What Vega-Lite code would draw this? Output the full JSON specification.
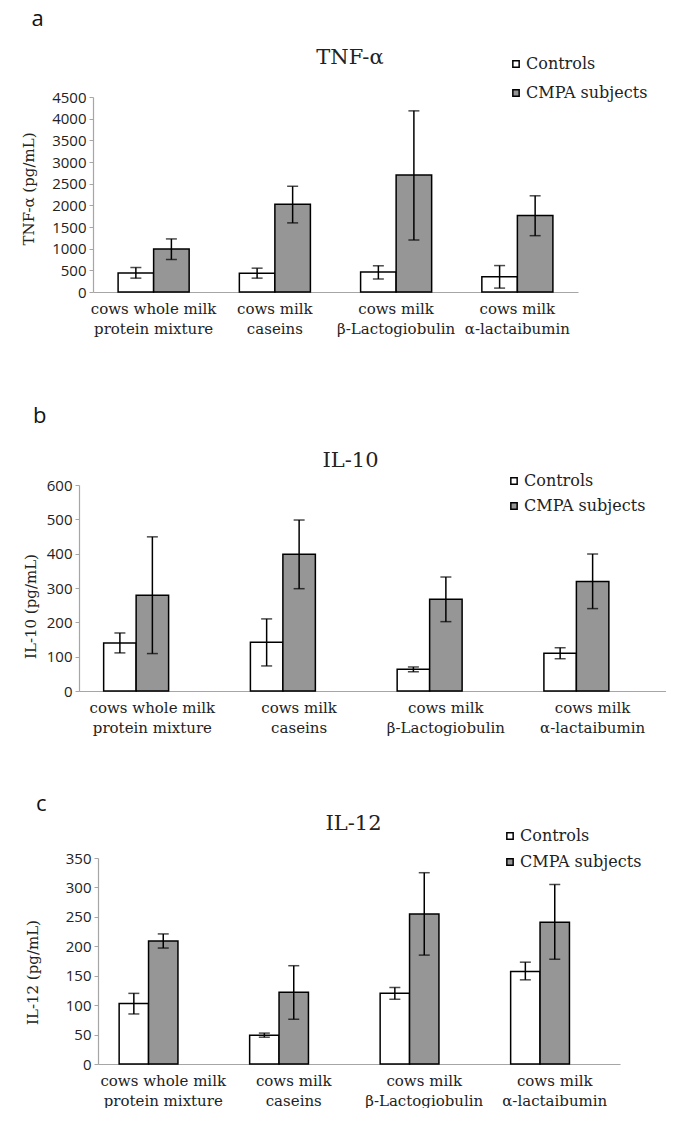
{
  "$schema": "https://vega.github.io/schema/vega-lite/v6.json",
  "background": "white",
  "padding": {"left": 21, "top": 8, "right": 0, "bottom": 0},
  "spacing": 58,
  "columns": 1,
  "resolve": {"scale": {"xOffset": "independent", "color": "independent", "x": "independent", "y": "independent"}, "legend": {"color": "independent"}, "axis": {"x": "independent", "y": "independent"}},
  "datasets": {
    "tnf": [
      {"category": "cows whole milk|protein mixture", "group": "Controls", "mean": 440, "lo": 320, "hi": 565},
      {"category": "cows whole milk|protein mixture", "group": "CMPA subjects", "mean": 990, "lo": 750, "hi": 1225},
      {"category": "cows milk|caseins", "group": "Controls", "mean": 435, "lo": 320, "hi": 550},
      {"category": "cows milk|caseins", "group": "CMPA subjects", "mean": 2025, "lo": 1595, "hi": 2440},
      {"category": "cows milk|β-Lactogiobulin", "group": "Controls", "mean": 460, "lo": 300, "hi": 605},
      {"category": "cows milk|β-Lactogiobulin", "group": "CMPA subjects", "mean": 2700, "lo": 1200, "hi": 4180},
      {"category": "cows milk|α-lactaibumin", "group": "Controls", "mean": 350, "lo": 90, "hi": 610},
      {"category": "cows milk|α-lactaibumin", "group": "CMPA subjects", "mean": 1765, "lo": 1300, "hi": 2220}
    ],
    "il10": [
      {"category": "cows whole milk|protein mixture", "group": "Controls", "mean": 140, "lo": 111, "hi": 169},
      {"category": "cows whole milk|protein mixture", "group": "CMPA subjects", "mean": 279, "lo": 109, "hi": 449},
      {"category": "cows milk|caseins", "group": "Controls", "mean": 142, "lo": 73, "hi": 210},
      {"category": "cows milk|caseins", "group": "CMPA subjects", "mean": 398, "lo": 298, "hi": 498},
      {"category": "cows milk|β-Lactogiobulin", "group": "Controls", "mean": 63, "lo": 56, "hi": 70},
      {"category": "cows milk|β-Lactogiobulin", "group": "CMPA subjects", "mean": 267, "lo": 202, "hi": 332},
      {"category": "cows milk|α-lactaibumin", "group": "Controls", "mean": 110, "lo": 94, "hi": 126},
      {"category": "cows milk|α-lactaibumin", "group": "CMPA subjects", "mean": 319, "lo": 240, "hi": 399}
    ],
    "il12": [
      {"category": "cows whole milk|protein mixture", "group": "Controls", "mean": 103, "lo": 85, "hi": 120},
      {"category": "cows whole milk|protein mixture", "group": "CMPA subjects", "mean": 209, "lo": 197, "hi": 221},
      {"category": "cows milk|caseins", "group": "Controls", "mean": 49, "lo": 45.5, "hi": 52.5},
      {"category": "cows milk|caseins", "group": "CMPA subjects", "mean": 122, "lo": 76, "hi": 167},
      {"category": "cows milk|β-Lactogiobulin", "group": "Controls", "mean": 120, "lo": 110, "hi": 130},
      {"category": "cows milk|β-Lactogiobulin", "group": "CMPA subjects", "mean": 255, "lo": 185, "hi": 325},
      {"category": "cows milk|α-lactaibumin", "group": "Controls", "mean": 157, "lo": 143, "hi": 173},
      {"category": "cows milk|α-lactaibumin", "group": "CMPA subjects", "mean": 241, "lo": 178, "hi": 305}
    ]
  },
  "concat": [
    {
      "title": {"text": "a", "anchor": "start", "frame": "bounds", "font": "Open Sans", "fontSize": 22, "fontWeight": "normal", "color": "#111", "dx": 10, "offset": 16},
      "resolve": {"scale": {"xOffset": "independent", "color": "independent"}, "legend": {"color": "independent"}},
      "vconcat": [
        {
          "width": 499,
          "height": 195,
          "data": {"name": "tnf"},
          "title": {"text": "TNF-α", "font": "DejaVu Serif", "fontSize": 21, "fontWeight": "normal", "color": "#222", "dx": 21.5, "offset": -12},
          "encoding": {
            "x": {"field": "category", "type": "nominal", "sort": null, "title": " ",
              "scale": {"range": [14, 499], "paddingInner": 0.414, "paddingOuter": 0.207},
              "axis": {"labelExpr": "split(datum.label, '|')", "titleFontSize": 1, "titlePadding": 10}}
          },
          "layer": [
            {
              "mark": {"type": "bar", "stroke": "black", "strokeWidth": 1.5},
              "encoding": {
                "xOffset": {"field": "group", "type": "nominal", "scale": {"domain": ["Controls", "CMPA subjects"], "paddingInner": 0, "paddingOuter": 0}},
                "y": {"field": "mean", "type": "quantitative", "title": "TNF-α (pg/mL)", "scale": {"domain": [0, 4500]},
                  "axis": {"values": [0, 500, 1000, 1500, 2000, 2500, 3000, 3500, 4000, 4500], "offset": -14, "titleX": -64.5, "titleY": 91.5}},
                "color": {"field": "group", "type": "nominal", "scale": {"domain": ["Controls", "CMPA subjects"], "range": ["#ffffff", "#969696"]},
                  "legend": {"orient": "none", "legendX": 429, "legendY": -41, "title": null, "rowPadding": 13}}
              }
            },
            {
              "mark": {"type": "rule", "color": "black", "strokeWidth": 1.5},
              "encoding": {
                "xOffset": {"field": "group", "type": "nominal", "scale": {"domain": ["Controls", "CMPA subjects"], "paddingInner": 0, "paddingOuter": 0}},
                "y": {"field": "lo", "type": "quantitative", "title": "TNF-α (pg/mL)",
                  "axis": {"values": [0, 500, 1000, 1500, 2000, 2500, 3000, 3500, 4000, 4500], "offset": -14, "titleX": -64.5, "titleY": 91.5}},
                "y2": {"field": "hi"}
              }
            },
            {
              "mark": {"type": "tick", "color": "black", "thickness": 1.5, "size": 11},
              "encoding": {
                "xOffset": {"field": "group", "type": "nominal", "scale": {"domain": ["Controls", "CMPA subjects"], "paddingInner": 0, "paddingOuter": 0}},
                "y": {"field": "lo", "type": "quantitative", "title": "TNF-α (pg/mL)",
                  "axis": {"values": [0, 500, 1000, 1500, 2000, 2500, 3000, 3500, 4000, 4500], "offset": -14, "titleX": -64.5, "titleY": 91.5}}
              }
            },
            {
              "mark": {"type": "tick", "color": "black", "thickness": 1.5, "size": 11},
              "encoding": {
                "xOffset": {"field": "group", "type": "nominal", "scale": {"domain": ["Controls", "CMPA subjects"], "paddingInner": 0, "paddingOuter": 0}},
                "y": {"field": "hi", "type": "quantitative", "title": "TNF-α (pg/mL)",
                  "axis": {"values": [0, 500, 1000, 1500, 2000, 2500, 3000, 3500, 4000, 4500], "offset": -14, "titleX": -64.5, "titleY": 91.5}}
              }
            }
          ]
        }
      ]
    },
    {
      "title": {"text": "b", "anchor": "start", "frame": "bounds", "font": "Open Sans", "fontSize": 22, "fontWeight": "normal", "color": "#111", "dx": 10, "offset": 22},
      "resolve": {"scale": {"xOffset": "independent", "color": "independent"}, "legend": {"color": "independent"}},
      "vconcat": [
        {
          "width": 587,
          "height": 206,
          "data": {"name": "il10"},
          "title": {"text": "IL-10", "font": "DejaVu Serif", "fontSize": 21, "fontWeight": "normal", "color": "#222", "dx": -22, "offset": 2},
          "encoding": {
            "x": {"field": "category", "type": "nominal", "sort": null, "title": null,
              "scale": {"paddingInner": 0.336, "paddingOuter": 0.168},
              "axis": {"labelExpr": "split(datum.label, '|')"}}
          },
          "layer": [
            {
              "mark": {"type": "bar", "stroke": "black", "strokeWidth": 1.5},
              "encoding": {
                "xOffset": {"field": "group", "type": "nominal", "scale": {"domain": ["Controls", "CMPA subjects", "none"], "paddingInner": 0, "paddingOuter": 0}},
                "y": {"field": "mean", "type": "quantitative", "title": "IL-10 (pg/mL)", "scale": {"domain": [0, 600]},
                  "axis": {"values": [0, 100, 200, 300, 400, 500, 600], "titleX": -49, "titleY": 121}},
                "color": {"field": "group", "type": "nominal", "scale": {"domain": ["Controls", "CMPA subjects"], "range": ["#ffffff", "#969696"]},
                  "legend": {"orient": "none", "legendX": 427, "legendY": -12, "title": null, "rowPadding": 9}}
              }
            },
            {
              "mark": {"type": "rule", "color": "black", "strokeWidth": 1.5},
              "encoding": {
                "xOffset": {"field": "group", "type": "nominal", "scale": {"domain": ["Controls", "CMPA subjects", "none"], "paddingInner": 0, "paddingOuter": 0}},
                "y": {"field": "lo", "type": "quantitative", "title": "IL-10 (pg/mL)",
                  "axis": {"values": [0, 100, 200, 300, 400, 500, 600], "titleX": -49, "titleY": 121}},
                "y2": {"field": "hi"}
              }
            },
            {
              "mark": {"type": "tick", "color": "black", "thickness": 1.5, "size": 11},
              "encoding": {
                "xOffset": {"field": "group", "type": "nominal", "scale": {"domain": ["Controls", "CMPA subjects", "none"], "paddingInner": 0, "paddingOuter": 0}},
                "y": {"field": "lo", "type": "quantitative", "title": "IL-10 (pg/mL)",
                  "axis": {"values": [0, 100, 200, 300, 400, 500, 600], "titleX": -49, "titleY": 121}}
              }
            },
            {
              "mark": {"type": "tick", "color": "black", "thickness": 1.5, "size": 11},
              "encoding": {
                "xOffset": {"field": "group", "type": "nominal", "scale": {"domain": ["Controls", "CMPA subjects", "none"], "paddingInner": 0, "paddingOuter": 0}},
                "y": {"field": "hi", "type": "quantitative", "title": "IL-10 (pg/mL)",
                  "axis": {"values": [0, 100, 200, 300, 400, 500, 600], "titleX": -49, "titleY": 121}}
              }
            }
          ]
        }
      ]
    },
    {
      "title": {"text": "c", "anchor": "start", "frame": "bounds", "font": "Open Sans", "fontSize": 22, "fontWeight": "normal", "color": "#111", "dx": 11, "offset": -3},
      "resolve": {"scale": {"xOffset": "independent", "color": "independent"}, "legend": {"color": "independent"}},
      "vconcat": [
        {
          "width": 541,
          "height": 206,
          "data": {"name": "il12"},
          "title": {"text": "IL-12", "font": "DejaVu Serif", "fontSize": 21, "fontWeight": "normal", "color": "#222", "dx": 4, "offset": -6},
          "encoding": {
            "x": {"field": "category", "type": "nominal", "sort": null, "title": null,
              "scale": {"range": [19, 541], "paddingInner": 0.324, "paddingOuter": 0.162},
              "axis": {"labelExpr": "split(datum.label, '|')"}}
          },
          "layer": [
            {
              "mark": {"type": "bar", "stroke": "black", "strokeWidth": 1.5},
              "encoding": {
                "xOffset": {"field": "group", "type": "nominal", "scale": {"domain": ["Controls", "CMPA subjects", "none"], "paddingInner": 0, "paddingOuter": 0}},
                "y": {"field": "mean", "type": "quantitative", "title": "IL-12 (pg/mL)", "scale": {"domain": [0, 350]},
                  "axis": {"values": [0, 50, 100, 150, 200, 250, 300, 350], "offset": -19, "titleX": -66, "titleY": 114}},
                "color": {"field": "group", "type": "nominal", "scale": {"domain": ["Controls", "CMPA subjects"], "range": ["#ffffff", "#969696"]},
                  "legend": {"orient": "none", "legendX": 423, "legendY": -30, "title": null, "rowPadding": 10}}
              }
            },
            {
              "mark": {"type": "rule", "color": "black", "strokeWidth": 1.5},
              "encoding": {
                "xOffset": {"field": "group", "type": "nominal", "scale": {"domain": ["Controls", "CMPA subjects", "none"], "paddingInner": 0, "paddingOuter": 0}},
                "y": {"field": "lo", "type": "quantitative", "title": "IL-12 (pg/mL)",
                  "axis": {"values": [0, 50, 100, 150, 200, 250, 300, 350], "offset": -19, "titleX": -66, "titleY": 114}},
                "y2": {"field": "hi"}
              }
            },
            {
              "mark": {"type": "tick", "color": "black", "thickness": 1.5, "size": 11},
              "encoding": {
                "xOffset": {"field": "group", "type": "nominal", "scale": {"domain": ["Controls", "CMPA subjects", "none"], "paddingInner": 0, "paddingOuter": 0}},
                "y": {"field": "lo", "type": "quantitative", "title": "IL-12 (pg/mL)",
                  "axis": {"values": [0, 50, 100, 150, 200, 250, 300, 350], "offset": -19, "titleX": -66, "titleY": 114}}
              }
            },
            {
              "mark": {"type": "tick", "color": "black", "thickness": 1.5, "size": 11},
              "encoding": {
                "xOffset": {"field": "group", "type": "nominal", "scale": {"domain": ["Controls", "CMPA subjects", "none"], "paddingInner": 0, "paddingOuter": 0}},
                "y": {"field": "hi", "type": "quantitative", "title": "IL-12 (pg/mL)",
                  "axis": {"values": [0, 50, 100, 150, 200, 250, 300, 350], "offset": -19, "titleX": -66, "titleY": 114}}
              }
            }
          ]
        }
      ]
    }
  ],
  "config": {
    "view": {"stroke": null},
    "axis": {"grid": false, "domainColor": "#a6a6a6", "domainWidth": 1.2, "tickColor": "#a6a6a6", "labelColor": "#222", "titleColor": "#222", "titleFont": "DejaVu Serif", "titleFontSize": 15, "titleFontWeight": "normal"},
    "axisX": {"ticks": false, "labelAngle": 0, "labelFont": "DejaVu Serif", "labelFontSize": 15, "labelLineHeight": 20, "labelPadding": 9, "labelOverlap": false},
    "axisY": {"tickSize": 4, "labelFont": "Open Sans", "labelFontSize": 15, "labelPadding": 3, "format": "d", "titleBaseline": "middle", "titleAngle": -90},
    "legend": {"symbolType": "square", "symbolSize": 40, "symbolStrokeColor": "black", "symbolStrokeWidth": 1.5, "labelFont": "DejaVu Serif", "labelFontSize": 16, "labelColor": "#222", "labelOffset": 2, "padding": 0}
  }
}
